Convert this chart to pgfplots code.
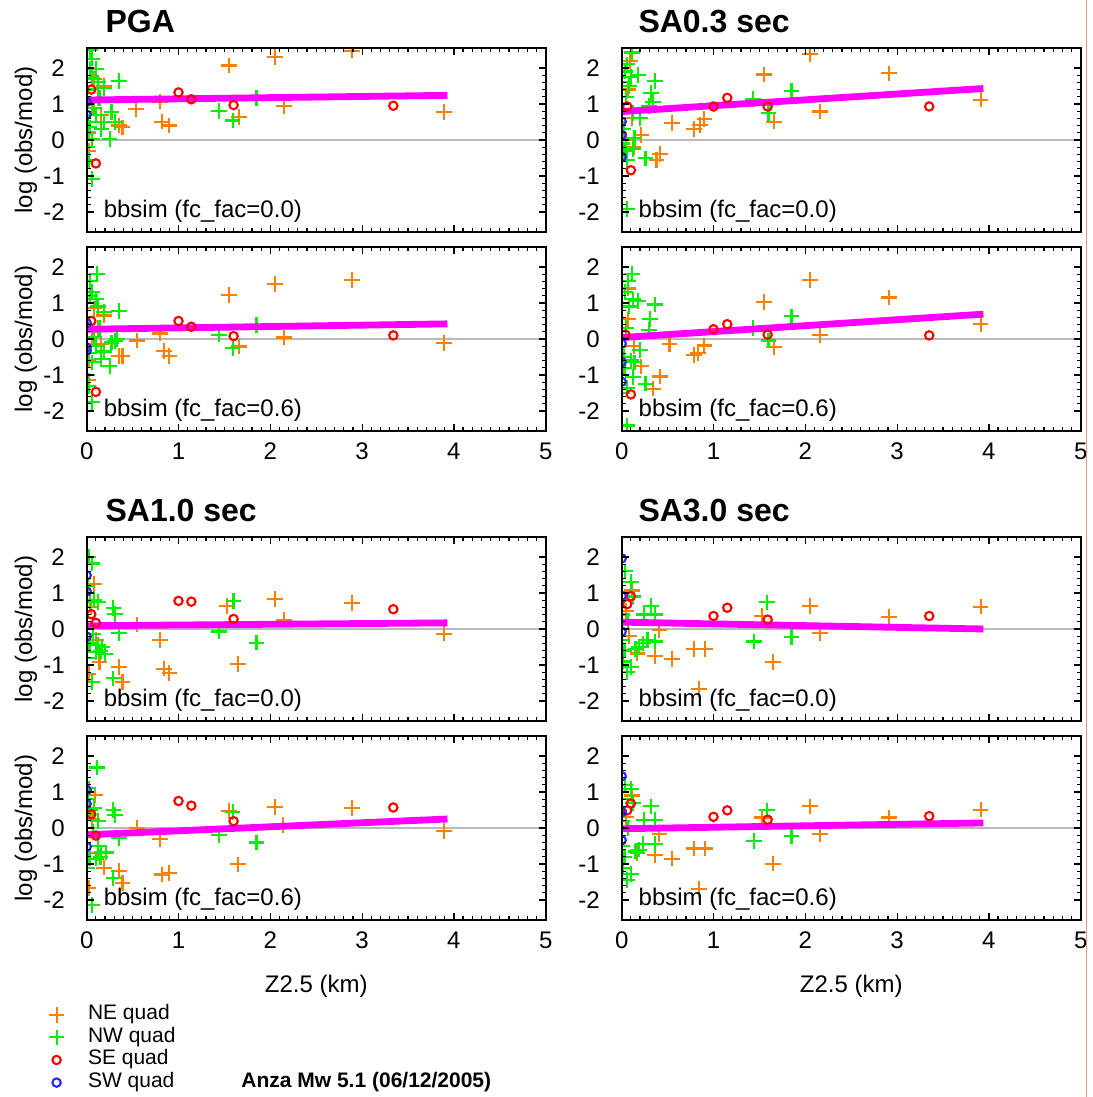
\documentclass[border=0pt]{standalone}
\usepackage{pgfplots}
\pgfplotsset{compat=1.18}
\usepackage{fontspec}
\setmainfont{Liberation Sans}
\definecolor{neorange}{RGB}{255,127,0}
\definecolor{nwgreen}{RGB}{0,240,0}
\definecolor{sered}{RGB}{255,0,0}
\definecolor{swblue}{RGB}{40,40,255}
\definecolor{fitmag}{RGB}{255,0,255}
\pgfplotsset{
  panel/.style={
    scale only axis, width=229.5pt, height=92pt,
    xmin=0, xmax=5, ymin=-2.555, ymax=2.555,
    xtick={0,1,2,3,4,5}, ytick={-2,-1,0,1,2}, yticklabels={-2,-1,0,1,2},
    minor x tick num=9, minor y tick num=4,
    tick align=inside, xtick pos=both, ytick pos=both,
    major tick length=3.5pt, minor tick length=2pt,
    every tick/.style={black, line width=0.6pt},
    axis line style={line width=0.8pt},
    axis on top, clip marker paths=true,
    ticklabel style={font=\fontsize{12}{14}\selectfont},
    yticklabel style={xshift=-7.5pt},
    xticklabel style={yshift=-2.3pt},
    anchor=south west,
  },
  toppanel/.style={panel, xticklabels=\empty},
  botpanel/.style={panel, xticklabels={0,1,2,3,4,5}},
  zero/.style={gray!55, line width=0.7pt, forget plot},
  qne/.style={only marks, mark=+, mark size=3.9pt, color=neorange, line width=1.1pt},
  qnw/.style={only marks, mark=+, mark size=3.9pt, color=nwgreen, line width=1.1pt},
  qse/.style={only marks, mark=o, mark size=2.1pt, color=sered, line width=1.05pt},
  qsw/.style={only marks, mark=o, mark size=2.1pt, color=swblue, line width=1.05pt},
  fit/.style={fitmag, line width=3.4pt, no marks},
  legend image code/.code={\path[draw=none,fill=none] (0pt,-3pt) rectangle (12pt,3pt);
    \draw[mark repeat=2,mark phase=2,#1] plot coordinates {(0pt,0pt)(6pt,0pt)(12pt,0pt)};},
}
\begin{document}
\begin{tikzpicture}
\useasboundingbox (0,0) rectangle (546pt,548.5pt);

% ---------------- Panel 1: PGA, fc_fac=0.0
\begin{axis}[toppanel, at={(43.35pt,432.5pt)}]
\addplot[zero] coordinates {(0,0) (5,0)};
\addplot[qne] coordinates {(1.55,2.07) (2.05,2.3) (2.89,2.48) (0.54,0.85) (0.80,1.07) (0.82,0.51) (0.90,0.40) (1.66,0.64) (2.15,0.95) (3.89,0.78) (0.39,0.35) (0.35,0.40) (0.08,1.69) (0.16,0.69) (0.12,1.16) (0.02,-0.31) (0.19,1.5) (0.06,0.88) (0.02,0.21)};
\addplot[qnw] coordinates {(1.44,0.80) (1.59,0.54) (1.85,1.16) (0.35,1.64) (0.25,0.02) (0.06,2.26) (0.04,1.97) (0.10,1.97) (0.06,1.73) (0.19,1.45) (0.27,0.78) (0.19,0.50) (0.31,0.5) (0.06,0.02) (0.02,-0.55) (0.06,-1.08) (0.14,1.16) (0.08,0.88) (0.16,0.3) (0.04,2.5) (0.0,1.4) (0.01,0.5) (0.03,0.35) (0.10,0.7) (0.0,-0.2) (0.12,1.6)};
\addplot[fit] coordinates {(0,1.11) (3.93,1.24)};
\addplot[qse] coordinates {(0.05,1.40) (0.10,-0.65) (1.0,1.32) (1.14,1.13) (1.60,0.97) (3.34,0.95)};
\addplot[qsw] coordinates {(0.0,0.70) (0.0,1.06)};
\end{axis}

% ---------------- Panel 2: PGA, fc_fac=0.6
\begin{axis}[botpanel, at={(43.35pt,333pt)}]
\addplot[zero] coordinates {(0,0) (5,0)};
\addplot[qne] coordinates {(1.55,1.22) (2.05,1.53) (2.89,1.63) (0.55,-0.04) (0.80,0.15) (0.84,-0.34) (0.90,-0.47) (1.66,-0.21) (2.15,0.04) (3.89,-0.11) (0.35,-0.47) (0.39,-0.47) (0.08,0.85) (0.16,-0.15) (0.12,0.30) (0.02,-1.15) (0.19,0.65) (0.06,0.05) (0.02,-0.6)};
\addplot[qnw] coordinates {(1.44,0.12) (1.59,-0.25) (1.85,0.39) (0.35,0.77) (0.25,-0.75) (0.33,0.0) (0.11,1.80) (0.06,1.3) (0.10,1.1) (0.04,1.2) (0.19,0.75) (0.27,-0.1) (0.19,-0.35) (0.31,-0.05) (0.06,-0.65) (0.02,-1.3) (0.06,-1.75) (0.14,0.30) (0.08,0.05) (0.16,-0.55) (0.04,1.6) (0.0,0.6) (0.01,-0.4) (0.10,-0.2) (0.0,-1.0) (0.12,0.9)};
\addplot[fit] coordinates {(0,0.27) (3.93,0.42)};
\addplot[qse] coordinates {(0.05,0.50) (0.10,-1.47) (1.0,0.50) (1.14,0.34) (1.60,0.08) (3.34,0.10)};
\addplot[qsw] coordinates {(0.0,0.44) (0.0,-0.23) (0.0,-0.32)};
\end{axis}

% ---------------- Panel 3: SA0.3, fc_fac=0.0
\begin{axis}[toppanel, at={(310.85pt,432.5pt)}]
\addplot[zero] coordinates {(0,0) (5,0)};
\addplot[qne] coordinates {(1.55,1.82) (2.05,2.38) (2.91,1.85) (0.55,0.47) (0.79,0.30) (0.85,0.42) (0.90,0.58) (1.66,0.51) (2.16,0.79) (3.91,1.12) (0.38,-0.56) (0.42,-0.39) (0.21,0.14) (0.11,0.60) (0.07,1.40) (0.09,2.20) (0.05,0.0) (0.13,-0.2)};
\addplot[qnw] coordinates {(1.43,1.14) (1.60,0.75) (1.85,1.36) (0.36,1.64) (0.32,1.31) (0.34,1.05) (0.26,-0.51) (0.06,-1.92) (0.11,2.43) (0.06,2.1) (0.04,1.9) (0.10,1.75) (0.18,1.8) (0.08,1.5) (0.20,0.6) (0.14,0.05) (0.12,-0.25) (0.06,-0.55) (0.03,-0.3) (0.30,0.95) (0.05,1.2) (0.02,0.3) (0.0,1.6) (0.0,0.8) (0.12,0.75) (0.0,-0.1)};
\addplot[fit] coordinates {(0,0.79) (3.94,1.43)};
\addplot[qse] coordinates {(0.06,0.93) (0.10,-0.84) (1.0,0.93) (1.15,1.17) (1.59,0.93) (3.35,0.93)};
\addplot[qsw] coordinates {(0.0,0.51) (0.0,0.14) (0.0,-0.47)};
\end{axis}

% ---------------- Panel 4: SA0.3, fc_fac=0.6
\begin{axis}[botpanel, at={(310.85pt,333pt)}]
\addplot[zero] coordinates {(0,0) (5,0)};
\addplot[qne] coordinates {(1.55,1.03) (2.05,1.63) (2.91,1.15) (0.52,-0.15) (0.79,-0.45) (0.83,-0.39) (0.90,-0.18) (1.66,-0.22) (2.16,0.10) (3.91,0.41) (0.42,-1.04) (0.34,-1.38) (0.21,-0.76) (0.07,0.55) (0.07,1.4) (0.13,-0.2)};
\addplot[qnw] coordinates {(1.43,0.31) (1.60,-0.04) (1.85,0.63) (0.36,0.96) (0.31,0.56) (0.30,0.25) (0.26,-1.24) (0.06,-2.4) (0.11,1.81) (0.07,1.6) (0.04,1.3) (0.12,1.1) (0.18,1.05) (0.08,0.9) (0.20,-0.3) (0.14,-0.65) (0.12,-1.05) (0.06,-1.35) (0.03,-0.8) (0.05,0.3) (0.02,-0.5) (0.0,1.0) (0.0,0.0) (0.10,-0.6) (0.0,-1.5)};
\addplot[fit] coordinates {(0,0.04) (3.94,0.69)};
\addplot[qse] coordinates {(0.04,0.12) (0.10,-1.54) (1.0,0.27) (1.15,0.41) (1.59,0.12) (3.35,0.10)};
\addplot[qsw] coordinates {(0.0,-0.13) (0.0,-0.64) (0.0,-1.19)};
\end{axis}

% ---------------- Panel 5: SA1.0, fc_fac=0.0
\begin{axis}[toppanel, at={(43.35pt,188pt)}]
\addplot[zero] coordinates {(0,0) (5,0)};
\addplot[qne] coordinates {(1.53,0.64) (2.05,0.83) (2.89,0.72) (0.55,0.12) (0.80,-0.30) (0.84,-1.10) (0.90,-1.23) (1.65,-0.98) (2.15,0.26) (3.89,-0.13) (0.39,-1.48) (0.35,-1.06) (0.08,1.25) (0.14,-0.92) (0.02,-1.25) (0.05,0.6) (0.10,-0.3)};
\addplot[qnw] coordinates {(1.44,-0.07) (1.60,0.78) (1.85,-0.38) (0.29,0.59) (0.31,0.41) (0.35,-0.11) (0.29,-1.37) (0.06,1.82) (0.06,-1.48) (0.17,-0.5) (0.20,-0.7) (0.15,-0.62) (0.08,0.8) (0.04,0.75) (0.12,0.75) (0.03,-0.4) (0.02,2.0) (0.07,-0.15) (0.10,-0.65) (0.0,0.3) (0.0,-0.8) (0.01,1.2) (0.12,-0.45)};
\addplot[fit] coordinates {(0,0.09) (3.93,0.17)};
\addplot[qse] coordinates {(0.05,0.41) (0.10,0.17) (1.0,0.78) (1.14,0.76) (1.60,0.28) (3.34,0.55)};
\addplot[qsw] coordinates {(0.0,1.49) (0.0,1.04) (0.0,-0.21)};
\end{axis}

% ---------------- Panel 6: SA1.0, fc_fac=0.6
\begin{axis}[botpanel, at={(43.35pt,88.5pt)},
  legend style={draw=none, fill=none, inner sep=0pt, outer sep=0pt,
    at={(axis description cs:-0.0917,-0.4538)}, anchor=north west,
    font=\fontsize{10.5}{11}\selectfont, row sep=0pt,
    nodes={inner sep=0pt, text height=8pt, text depth=3.3pt},
    /tikz/every odd column/.append style={column sep=9.7pt}},
  legend cell align=left]
\addplot[zero] coordinates {(0,0) (5,0)};
\addplot[qne, forget plot] coordinates {(1.55,0.48) (2.05,0.58) (2.89,0.55) (0.55,0.0) (0.80,-0.30) (0.82,-1.29) (0.90,-1.25) (1.65,-1.01) (2.14,0.08) (3.89,-0.09) (0.39,-1.53) (0.35,-1.20) (0.19,-1.1) (0.09,0.92) (0.02,-1.67) (0.06,0.25) (0.12,-0.7)};
\addplot[qnw, forget plot] coordinates {(1.44,-0.19) (1.59,0.45) (1.85,-0.40) (0.29,0.5) (0.31,0.36) (0.35,-0.27) (0.29,-1.39) (0.11,1.68) (0.06,-2.14) (0.16,-0.68) (0.21,-0.68) (0.15,-0.8) (0.04,0.5) (0.08,0.55) (0.12,0.2) (0.03,-0.85) (0.02,1.1) (0.07,-0.1) (0.10,-0.85) (0.0,0.0) (0.0,-1.1) (0.01,0.8) (0.12,-0.5)};
\addplot[fit, forget plot] coordinates {(0,-0.19) (3.93,0.25)};
\addplot[qse, forget plot] coordinates {(0.05,0.38) (0.10,-0.21) (1.0,0.75) (1.14,0.62) (1.60,0.19) (3.34,0.57)};
\addplot[qsw, forget plot] coordinates {(0.0,1.05) (0.0,0.67) (0.0,-0.52)};
\addlegendimage{qne}
\addlegendentry{NE quad}
\addlegendimage{qnw}
\addlegendentry{NW quad}
\addlegendimage{qse}
\addlegendentry{SE quad}
\addlegendimage{qsw}
\addlegendentry{SW quad}
\end{axis}

% ---------------- Panel 7: SA3.0, fc_fac=0.0
\begin{axis}[toppanel, at={(310.85pt,188pt)}]
\addplot[zero] coordinates {(0,0) (5,0)};
\addplot[qne] coordinates {(1.53,0.36) (2.05,0.64) (2.91,0.34) (0.55,-0.84) (0.79,-0.56) (0.91,-0.56) (0.84,-1.67) (1.65,-0.92) (2.16,-0.11) (3.91,0.62) (0.36,-0.75) (0.41,-0.02) (0.17,-0.68) (0.11,1.07) (0.05,0.5) (0.08,-0.2)};
\addplot[qnw] coordinates {(1.44,-0.35) (1.58,0.74) (1.85,-0.23) (0.32,0.64) (0.24,0.4) (0.36,0.4) (0.36,-0.35) (0.23,-0.4) (0.28,-0.3) (0.06,-1.2) (0.10,-1.05) (0.10,1.3) (0.15,-0.55) (0.19,-0.5) (0.04,1.6) (0.07,0.2) (0.03,-0.6) (0.12,0.9) (0.0,1.0) (0.0,0.4) (0.0,-0.3) (0.01,-0.9)};
\addplot[fit] coordinates {(0,0.19) (3.94,0.0)};
\addplot[qse] coordinates {(0.06,0.69) (0.10,0.91) (1.0,0.36) (1.15,0.59) (1.59,0.26) (3.35,0.36)};
\addplot[qsw] coordinates {(0.0,1.96) (0.0,0.92) (0.0,-0.07)};
\end{axis}

% ---------------- Panel 8: SA3.0, fc_fac=0.6
\begin{axis}[botpanel, at={(310.85pt,88.5pt)}]
\addplot[zero] coordinates {(0,0) (5,0)};
\addplot[qne] coordinates {(1.53,0.29) (2.05,0.60) (2.91,0.29) (0.55,-0.85) (0.79,-0.57) (0.91,-0.57) (0.84,-1.69) (1.65,-0.99) (2.16,-0.16) (3.91,0.51) (0.36,-0.76) (0.41,-0.16) (0.17,-0.7) (0.11,0.9) (0.05,0.3)};
\addplot[qnw] coordinates {(1.44,-0.36) (1.58,0.49) (1.85,-0.22) (0.32,0.60) (0.24,0.23) (0.36,0.23) (0.36,-0.45) (0.23,-0.45) (0.06,-1.45) (0.10,-1.27) (0.10,1.09) (0.15,-0.65) (0.19,-0.6) (0.04,1.2) (0.07,0.0) (0.03,-0.8) (0.12,0.7) (0.0,0.8) (0.0,0.2) (0.0,-0.5) (0.01,-1.1)};
\addplot[fit] coordinates {(0,-0.02) (3.94,0.14)};
\addplot[qse] coordinates {(0.06,0.49) (0.10,0.68) (1.0,0.31) (1.15,0.49) (1.59,0.23) (3.35,0.33)};
\addplot[qsw] coordinates {(0.0,1.44) (0.0,0.44) (0.0,-0.34)};
\end{axis}

% ---------------- Titles and labels
\begin{scope}[font=\bfseries\fontsize{16}{19}\selectfont]
\node[anchor=base west, inner sep=0pt] at (52.6pt,532pt) {PGA};
\node[anchor=base west, inner sep=0pt] at (319.05pt,532pt) {SA0.3 sec};
\node[anchor=base west, inner sep=0pt] at (52.6pt,287.5pt) {SA1.0 sec};
\node[anchor=base west, inner sep=0pt] at (319.05pt,287.5pt) {SA3.0 sec};
\end{scope}
\begin{scope}[font=\fontsize{12}{14}\selectfont]
\node[anchor=base west, inner sep=0pt] at (51.7pt,439.5pt) {bbsim (fc\_fac=0.0)};
\node[anchor=base west, inner sep=0pt] at (51.7pt,340pt) {bbsim (fc\_fac=0.6)};
\node[anchor=base west, inner sep=0pt] at (319.15pt,439.5pt) {bbsim (fc\_fac=0.0)};
\node[anchor=base west, inner sep=0pt] at (319.15pt,340pt) {bbsim (fc\_fac=0.6)};
\node[anchor=base west, inner sep=0pt] at (51.7pt,195pt) {bbsim (fc\_fac=0.0)};
\node[anchor=base west, inner sep=0pt] at (51.7pt,95.5pt) {bbsim (fc\_fac=0.6)};
\node[anchor=base west, inner sep=0pt] at (319.15pt,195pt) {bbsim (fc\_fac=0.0)};
\node[anchor=base west, inner sep=0pt] at (319.15pt,95.5pt) {bbsim (fc\_fac=0.6)};
\node[rotate=90, inner sep=0pt] at (13pt,478.5pt) {log (obs/mod)};
\node[rotate=90, inner sep=0pt] at (13pt,379pt) {log (obs/mod)};
\node[rotate=90, inner sep=0pt] at (13pt,234pt) {log (obs/mod)};
\node[rotate=90, inner sep=0pt] at (13pt,134.5pt) {log (obs/mod)};
\node[inner sep=0pt] at (158.1pt,55.2pt) {Z2.5 (km)};
\node[inner sep=0pt] at (425.6pt,55.2pt) {Z2.5 (km)};
\end{scope}
\node[anchor=base west, inner sep=0pt, font=\bfseries\fontsize{10.5}{12}\selectfont] at (120.5pt,4.75pt) {Anza Mw 5.1 (06/12/2005)};
\draw[red!45, line width=0.5pt] (543pt,0pt) -- (543pt,548.5pt);
\end{tikzpicture}
\end{document}
